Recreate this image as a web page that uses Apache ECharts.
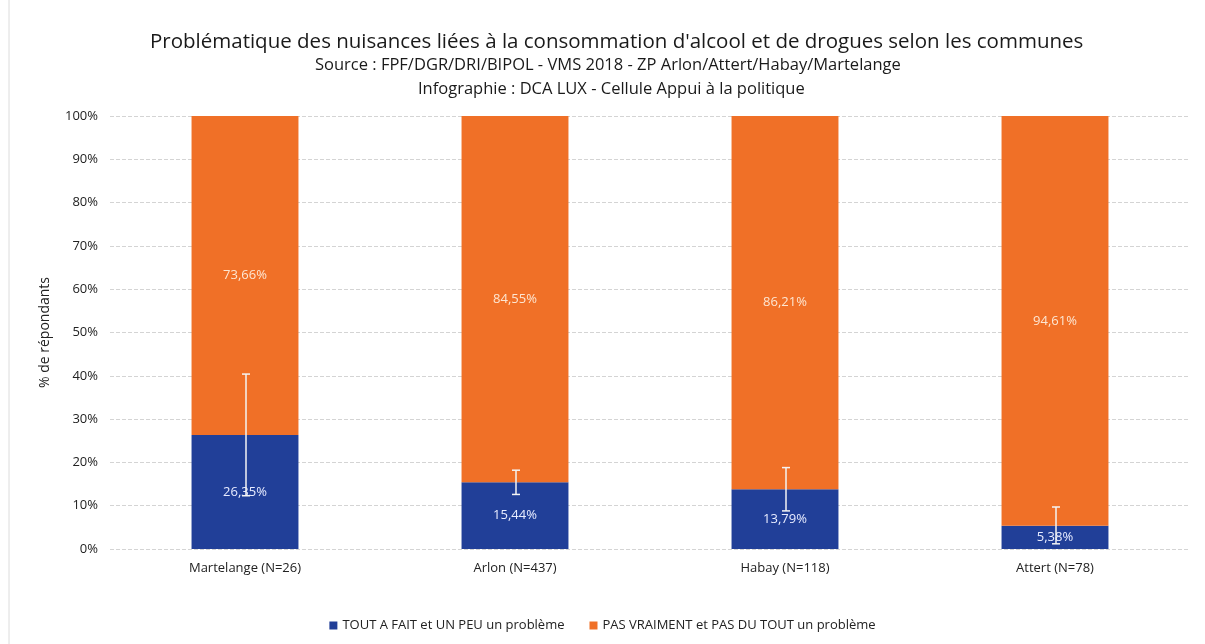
<!DOCTYPE html>
<html>
<head>
<meta charset="utf-8">
<script src="https://cdn.jsdelivr.net/npm/echarts@6/dist/echarts.min.js"></script>
<style>
  html, body { margin: 0; padding: 0; background: #fff; }
  #report { width: 1205px; height: 644px; }
</style>
</head>
<body>
<div id="report"></div>
<script>
// données
var communes = ['Martelange (N=26)', 'Arlon (N=437)', 'Habay (N=118)', 'Attert (N=78)'];
var problemeOui = [26.35, 15.44, 13.79, 5.38];
var problemeNon = [73.66, 84.55, 86.21, 94.61];
// intervalles d'erreur (bas / haut) sur la série bleue
var errBas = [12.3, 12.6, 8.8, 1.2];
var errHaut = [40.4, 18.2, 18.8, 9.7];
var yTicks = [0, 10, 20, 30, 40, 50, 60, 70, 80, 90, 100];

var police = 'Open Sans, Noto Sans, sans-serif';
var myChart = echarts.init(document.getElementById('report'));

function fmt(v) {
  return v.toFixed(2).replace('.', ',') + '%';
}

option = {
  backgroundColor: '#fff',
  animation: false,
  title: [
    {
      text: "Problématique des nuisances liées à la consommation d'alcool et de drogues selon les communes",
      left: 145, top: 27,
      textStyle: { fontFamily: police, fontSize: 20.5, fontWeight: 'normal', color: '#1a1a1a' }
    },
    {
      text: 'Source : FPF/DGR/DRI/BIPOL - VMS 2018 - ZP Arlon/Attert/Habay/Martelange',
      left: 310, top: 52,
      textStyle: { fontFamily: police, fontSize: 16.5, fontWeight: 'normal', color: '#1a1a1a' }
    },
    {
      text: 'Infographie : DCA LUX - Cellule Appui à la politique',
      left: 413, top: 76,
      textStyle: { fontFamily: police, fontSize: 16.5, fontWeight: 'normal', color: '#1a1a1a' }
    }
  ],
  graphic: [
    { type: 'line', shape: { x1: 9, y1: 0, x2: 9, y2: 644 }, style: { stroke: '#dcdcdc', lineWidth: 1 } }
  ],
  legend: {
    top: 614,
    left: 'center',
    itemWidth: 8,
    itemHeight: 8,
    itemGap: 25,
    icon: 'rect',
    textStyle: { fontFamily: police, fontSize: 13, color: '#222' },
    data: ['TOUT A FAIT et UN PEU un problème', 'PAS VRAIMENT et PAS DU TOUT un problème']
  },
  grid: { left: 110, right: 15, top: 116, bottom: 95 },
  xAxis: {
    type: 'category',
    data: communes,
    axisTick: { show: false },
    axisLine: { show: false },
    axisLabel: { fontFamily: police, fontSize: 13, color: '#222', margin: 13 }
  },
  yAxis: {
    type: 'value',
    min: 0,
    max: 100,
    interval: 10,
    name: '% de répondants',
    nameLocation: 'middle',
    nameGap: 58,
    nameTextStyle: { fontFamily: police, fontSize: 14, color: '#222' },
    axisLabel: {
      fontFamily: police, fontSize: 13, color: '#222', margin: 12,
      formatter: function (v) { return yTicks.indexOf(v) >= 0 ? v + '%' : ''; }
    },
    splitLine: { lineStyle: { color: '#d4d4d4', type: 'dashed' } }
  },
  series: [
    {
      name: 'TOUT A FAIT et UN PEU un problème',
      type: 'bar',
      stack: 'total',
      barWidth: '39.6%',
      itemStyle: { color: '#213f98' },
      label: {
        show: true, position: 'inside',
        formatter: function (p) { return fmt(p.value); },
        fontFamily: police, fontSize: 13, color: '#e8ecff'
      },
      data: problemeOui
    },
    {
      name: 'PAS VRAIMENT et PAS DU TOUT un problème',
      type: 'bar',
      stack: 'total',
      barWidth: '39.6%',
      itemStyle: { color: '#f07027' },
      label: {
        show: true, position: 'inside',
        formatter: function (p) { return fmt(p.value); },
        fontFamily: police, fontSize: 13, color: '#fde6d2'
      },
      data: problemeNon
    },
    {
      type: 'custom',
      name: 'erreur',
      z: 10,
      data: errBas.map(function (b, i) { return [i, b, errHaut[i]]; }),
      renderItem: function (params, api) {
        var bas = api.coord([api.value(0), api.value(1)]);
        var haut = api.coord([api.value(0), api.value(2)]);
        var x = bas[0] + 1;
        var style = { stroke: '#f4f4f4', lineWidth: 1.5 };
        return {
          type: 'group',
          children: [
            { type: 'line', shape: { x1: x, y1: bas[1], x2: x, y2: haut[1] }, style: style },
            { type: 'line', shape: { x1: x - 4, y1: bas[1], x2: x + 4, y2: bas[1] }, style: style },
            { type: 'line', shape: { x1: x - 4, y1: haut[1], x2: x + 4, y2: haut[1] }, style: style }
          ]
        };
      }
    }
  ]
};

myChart.setOption(option);
</script>
</body>
</html>
